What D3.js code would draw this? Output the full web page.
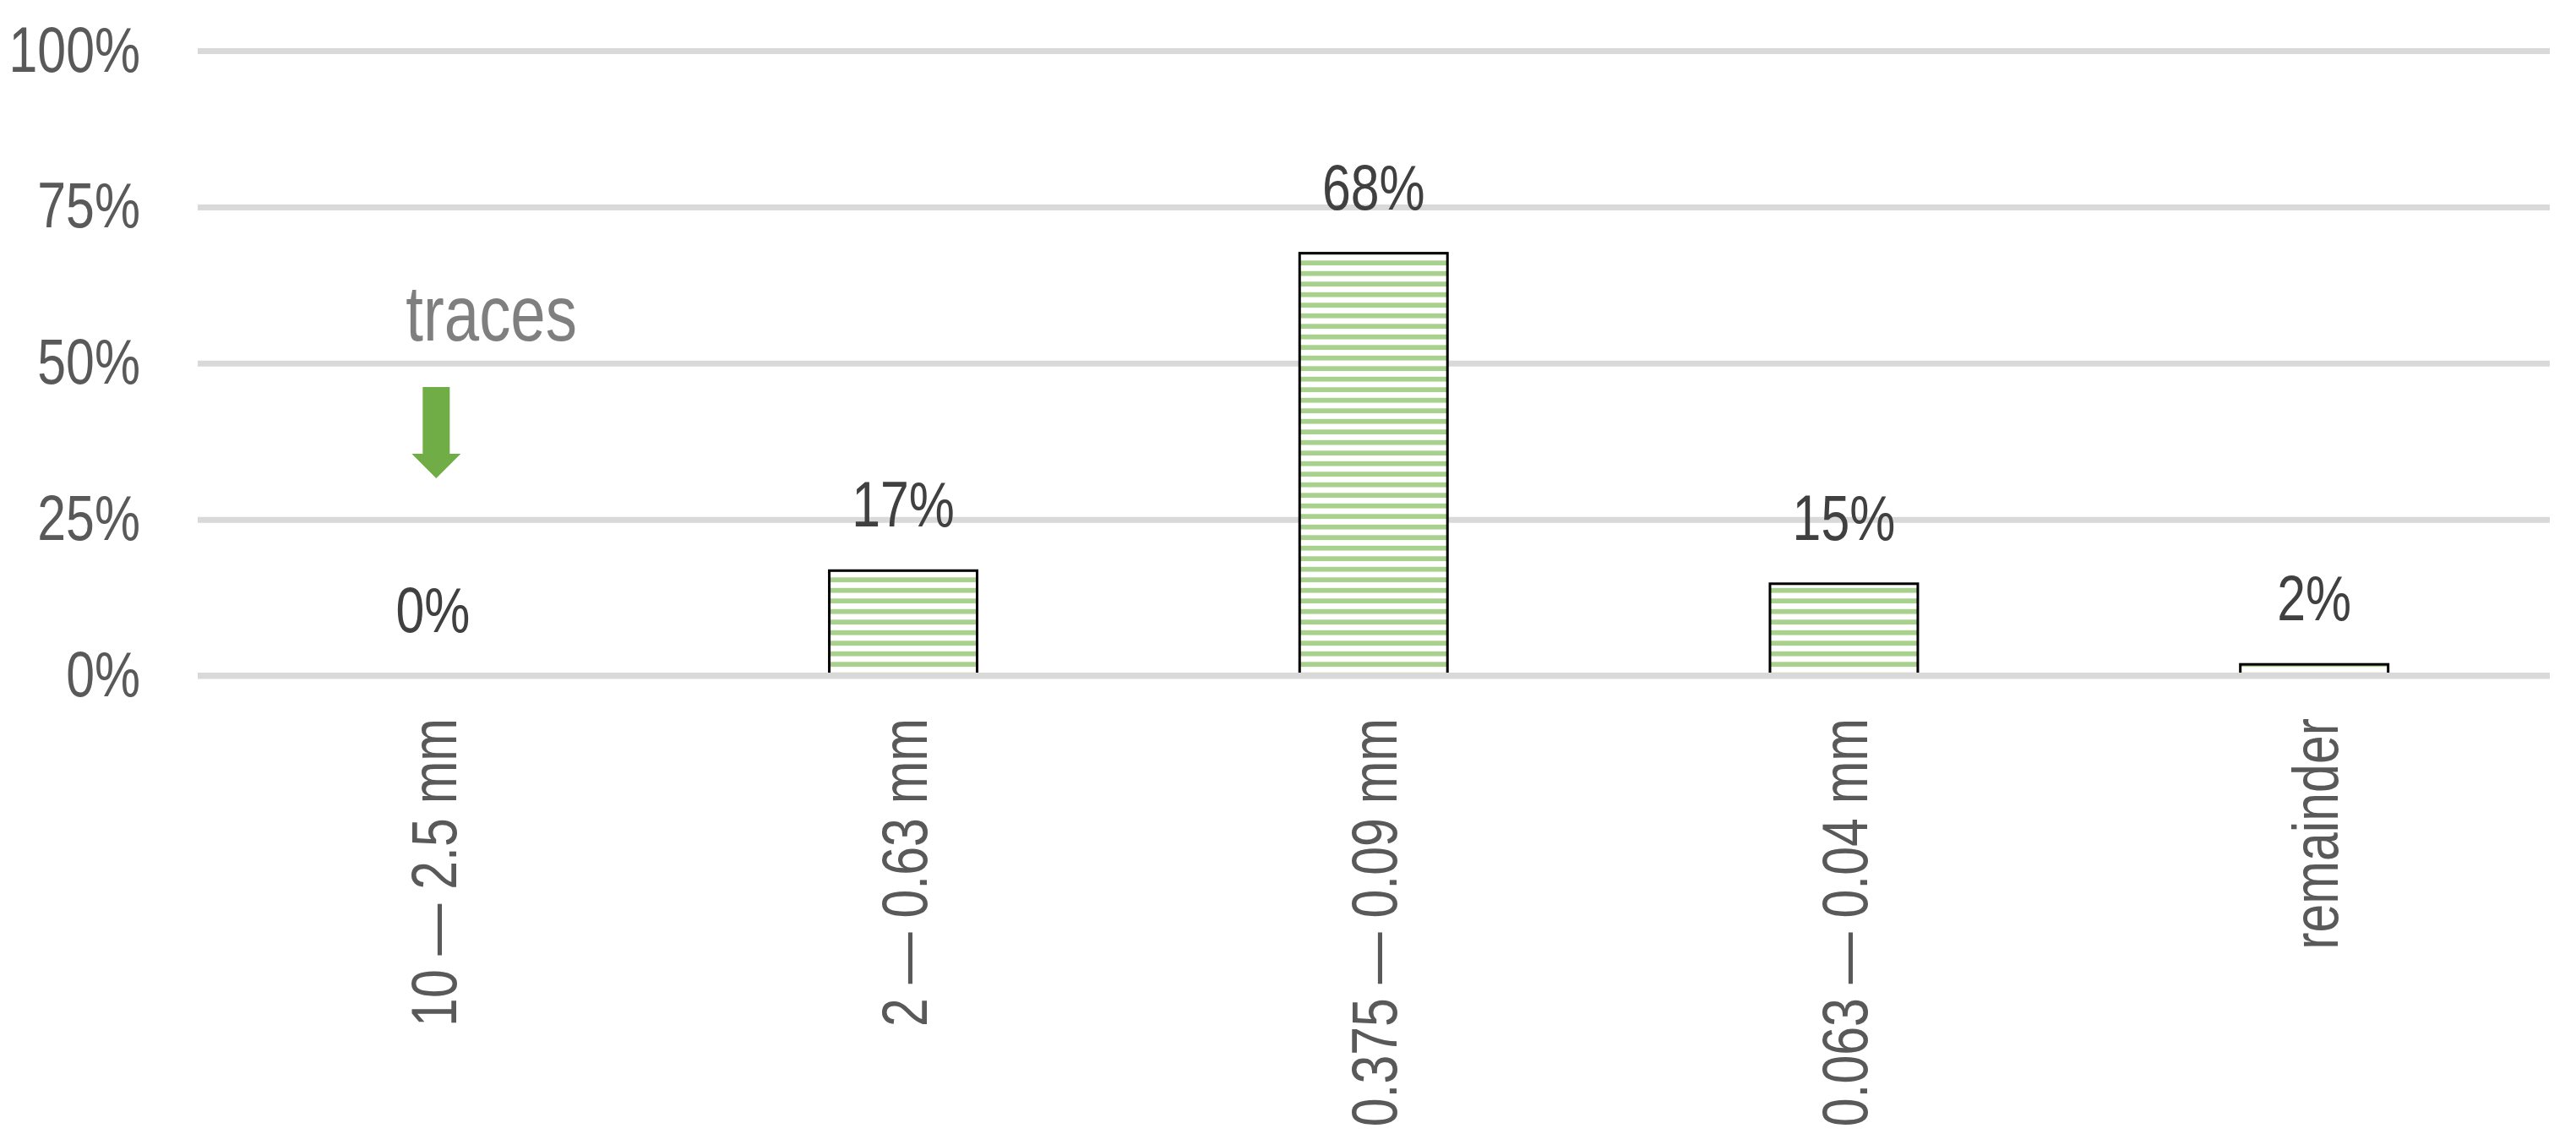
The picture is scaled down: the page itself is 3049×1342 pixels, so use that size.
<!DOCTYPE html>
<html>
<head>
<meta charset="utf-8">
<script src="https://cdn.jsdelivr.net/npm/d3@7"></script>
<style>
  html, body { margin: 0; padding: 0; background: #ffffff; }
  svg { display: block; }
  text { font-family: "Liberation Sans Narrow", "Arial Narrow", "Liberation Sans", Arial, sans-serif; }
</style>
</head>
<body>
<svg id="chart" width="3049" height="1342"></svg>
<script>
// ---- data ----
const categories = ["10 — 2.5 mm", "2 — 0.63 mm", "0.375 — 0.09 mm", "0.063 — 0.04 mm", "remainder"];
const values = [0.0, 0.168, 0.676, 0.147, 0.018];
const valueLabels = ["0%", "17%", "68%", "15%", "2%"];
const yTicks = [0, 0.25, 0.5, 0.75, 1.0];
const annotationText = "traces";

// ---- layout ----
const svg = d3.select("#chart");

const x = d3.scaleBand()
  .domain(categories)
  .range([234, 3017.5])
  .paddingInner(0.6857)
  .paddingOuter(0.3428);

const y = d3.scaleLinear().domain([0, 1]).range([799.5, 60]);

// narrow-font emulation: compress glyphs horizontally along the text direction
function narrow(sel, factor) {
  sel.each(function () {
    const len = this.getComputedTextLength();
    d3.select(this)
      .attr("textLength", len * factor)
      .attr("lengthAdjust", "spacingAndGlyphs");
  });
}

// pattern: narrow horizontal green stripes
const defs = svg.append("defs");
const pat = defs.append("pattern")
  .attr("id", "hstripes")
  .attr("patternUnits", "userSpaceOnUse")
  .attr("x", 0).attr("y", 8.3)
  .attr("width", 20).attr("height", 12.5);
pat.append("rect").attr("width", 20).attr("height", 12.5).attr("fill", "#ffffff");
pat.append("rect").attr("width", 20).attr("height", 5.8).attr("fill", "#a9d18e");

// gridlines + y tick labels
const yAxis = d3.axisLeft(y)
  .tickValues(yTicks)
  .tickSize(-(3018 - 234))
  .tickFormat(d3.format(".0%"))
  .tickPadding(0);

const gAxis = svg.append("g").attr("transform", "translate(234,0)").call(yAxis);
gAxis.select(".domain").remove();
gAxis.selectAll(".tick line")
  .attr("stroke", "#d9d9d9")
  .attr("stroke-width", 7);
gAxis.selectAll(".tick text")
  .attr("x", -68)
  .attr("dy", 0)
  .attr("y", 24)
  .attr("fill", "#595959")
  .attr("font-size", 76)
  .attr("font-family", "'Liberation Sans Narrow', 'Arial Narrow', 'Liberation Sans', Arial, sans-serif")
  .attr("text-anchor", "end")
  .call(narrow, 0.8);

// bars
svg.append("g").selectAll("rect")
  .data(values)
  .join("rect")
  .attr("x", (d, i) => x(categories[i]))
  .attr("y", d => y(d))
  .attr("width", x.bandwidth())
  .attr("height", d => y(0) - y(d))
  .attr("fill", "url(#hstripes)")
  .attr("stroke", "#000000")
  .attr("stroke-width", 3)
  .attr("display", d => d > 0 ? null : "none");

// category axis line on top
const xAxis = d3.axisBottom(x).tickSize(0).tickFormat("");
const gx = svg.append("g").attr("transform", `translate(0,${y(0)})`).call(xAxis);
gx.select(".domain")
  .attr("stroke", "#d9d9d9")
  .attr("stroke-width", 7)
  .attr("d", "M0,0H" + (3018 - 234))
  .attr("transform", "translate(234,0)");

// category labels (rotated)
svg.append("g").selectAll("text")
  .data(categories)
  .join("text")
  .attr("transform", d => `translate(${x(d) + x.bandwidth() / 2},850) rotate(-90)`)
  .attr("x", 0)
  .attr("y", 27.5)
  .attr("text-anchor", "end")
  .attr("font-size", 76)
  .attr("fill", "#595959")
  .text(d => d)
  .call(narrow, 0.8);

// value labels
svg.append("g").selectAll("text")
  .data(values)
  .join("text")
  .attr("x", (d, i) => x(categories[i]) + x.bandwidth() / 2)
  .attr("y", d => y(d) - 52)
  .attr("text-anchor", "middle")
  .attr("font-size", 76)
  .attr("fill", "#404040")
  .text((d, i) => valueLabels[i])
  .call(narrow, 0.8);

// annotation "traces" with green arrow
const cx0 = x(categories[0]) + x.bandwidth() / 2;
svg.append("text")
  .attr("x", cx0 - 32)
  .attr("y", 403)
  .attr("font-size", 93)
  .attr("fill", "#7f7f7f")
  .text(annotationText)
  .call(narrow, 0.8);

const ax = cx0 + 4;
svg.append("path")
  .attr("d", `M${ax - 16},458 H${ax + 16} V537 H${ax + 29} L${ax},566 L${ax - 29},537 H${ax - 16} Z`)
  .attr("fill", "#70ad47");
</script>
</body>
</html>
